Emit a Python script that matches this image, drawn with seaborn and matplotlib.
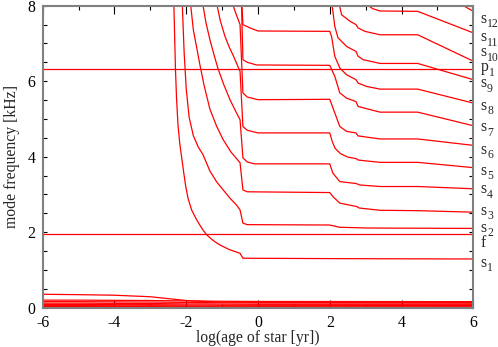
import numpy as np
import pandas as pd
import matplotlib
matplotlib.use("Agg")
import matplotlib.pyplot as plt
from matplotlib.ticker import MultipleLocator
import seaborn as sns

sns.set_style("ticks")
plt.rcParams["font.family"] = ["Liberation Serif", "DejaVu Serif"]
plt.rcParams["axes.unicode_minus"] = False

# ---------------- data (log age [yr], frequency [kHz]) ----------------
s1_x = [-2.345, -2.30, -2.27, -2.23, -2.18, -2.13, -2.08, -2.02, -1.95, -1.85, -1.71, -1.55, -1.43, -1.25, -1.06, -0.80, -0.50, -0.42, 2.0, 6.0]
s1_y = [8.05, 6.33, 5.55, 4.85, 4.35, 4.00, 3.65, 3.25, 2.90, 2.59, 2.33, 2.08, 1.93, 1.78, 1.66, 1.54, 1.44, 1.31, 1.30, 1.29]

s2_x = [-2.11, -2.06, -2.00, -1.92, -1.80, -1.66, -1.53, -1.34, -1.15, -0.97, -0.78, -0.60, -0.50, -0.42, -0.30, 2.0, 2.28, 3.1, 6.0]
s2_y = [8.05, 6.80, 5.80, 5.05, 4.55, 4.25, 4.05, 3.62, 3.33, 3.12, 2.90, 2.72, 2.59, 2.24, 2.20, 2.19, 2.13, 2.11, 2.10]

s3_x = [-1.88, -1.80, -1.71, -1.62, -1.50, -1.34, -1.15, -0.97, -0.75, -0.50, -0.42, -0.30, 2.0, 2.09, 2.28, 2.75, 2.82, 3.4, 4.45, 6.0]
s3_y = [8.05, 7.35, 6.90, 6.44, 5.88, 5.26, 4.80, 4.45, 4.12, 3.84, 3.12, 3.07, 3.05, 2.94, 2.77, 2.68, 2.64, 2.58, 2.57, 2.53]

s4_x = [-1.54, -1.45, -1.34, -1.22, -1.11, -0.95, -0.78, -0.62, -0.50, -0.42, -0.30, -0.10, 2.0, 2.09, 2.28, 2.73, 2.84, 3.4, 4.45, 6.0]
s4_y = [8.05, 7.55, 7.10, 6.68, 6.32, 5.90, 5.51, 5.20, 4.98, 3.97, 3.86, 3.81, 3.81, 3.56, 3.34, 3.29, 3.25, 3.21, 3.21, 3.15]

s5_x = [-1.15, -1.05, -0.92, -0.80, -0.70, -0.60, -0.50, -0.42, -0.30, 0.0, 2.0, 2.07, 2.15, 2.30, 2.50, 2.73, 2.80, 3.4, 4.45, 6.0]
s5_y = [8.05, 7.60, 7.19, 6.90, 6.70, 6.48, 6.26, 4.80, 4.70, 4.63, 4.63, 4.40, 4.22, 4.08, 3.99, 3.95, 3.91, 3.85, 3.85, 3.71]

s6_x = [-0.71, -0.62, -0.55, -0.50, -0.42, -0.30, 0.0, 2.0, 2.14, 2.28, 2.47, 2.73, 2.79, 3.4, 4.45, 6.0]
s6_y = [8.05, 7.80, 7.63, 7.50, 5.69, 5.58, 5.51, 5.52, 5.16, 4.80, 4.67, 4.63, 4.55, 4.47, 4.47, 4.30]

s7_x = [-0.46, -0.42, -0.30, -0.04, 2.0, 2.14, 2.28, 2.47, 2.73, 2.79, 3.4, 4.45, 6.0]
s7_y = [8.05, 6.57, 6.50, 6.43, 6.42, 6.13, 5.69, 5.55, 5.46, 5.33, 5.18, 5.18, 4.82]

s8_x = [-0.45, -0.42, -0.22, 0.0, 2.0, 2.05, 2.14, 2.28, 2.47, 2.73, 2.79, 3.03, 3.4, 4.45, 6.0]
s8_y = [8.05, 7.50, 7.41, 7.33, 7.32, 7.19, 6.66, 6.35, 6.17, 6.04, 5.95, 5.86, 5.79, 5.79, 5.42]

s9_x = [2.06, 2.14, 2.23, 2.47, 2.73, 2.79, 2.93, 3.4, 4.45, 6.0]
s9_y = [8.05, 7.45, 7.15, 6.92, 6.79, 6.66, 6.57, 6.47, 6.47, 6.04]

s10_x = [2.26, 2.33, 2.56, 2.73, 2.79, 2.98, 3.4, 4.45, 6.0]
s10_y = [8.05, 7.76, 7.59, 7.50, 7.41, 7.32, 7.23, 7.23, 6.53]

s11_x = [3.03, 3.20, 3.40, 4.45, 6.0]
s11_y = [8.03, 7.92, 7.86, 7.85, 7.28]

s12_x = [4.45, 6.0]
s12_y = [8.70, 7.85]

p1_x = [-6.0, 6.0]
p1_y = [6.31, 6.31]

f_x = [-6.0, 6.0]
f_y = [1.94, 1.94]

g_x = [-6.0, -5.0, -4.0, -3.0, -2.5, -2.0, -1.5, -1.0, 0.0, 6.0]
g1_y = [0.355, 0.345, 0.33, 0.29, 0.24, 0.19, 0.165, 0.15, 0.14, 0.14]
g2_y = [0.20, 0.20, 0.195, 0.19, 0.185, 0.18, 0.175, 0.17, 0.165, 0.16]
g3_y = [0.16, 0.16, 0.155, 0.15, 0.145, 0.14, 0.135, 0.13, 0.125, 0.12]
g4_y = [0.12, 0.12, 0.115, 0.11, 0.105, 0.10, 0.10, 0.095, 0.09, 0.09]
g5_y = [0.085, 0.085, 0.08, 0.08, 0.075, 0.07, 0.07, 0.065, 0.065, 0.06]
g6_y = [0.055, 0.055, 0.05, 0.05, 0.05, 0.045, 0.045, 0.04, 0.04, 0.04]
g7_y = [0.03, 0.03, 0.03, 0.03, 0.025, 0.025, 0.025, 0.02, 0.02, 0.02]

label_base = ["s", "s", "s", "p", "s", "s", "s", "s", "s", "s", "s", "s", "f", "s"]
label_sub = ["12", "11", "10", "1", "9", "8", "7", "6", "5", "4", "3", "2", "", "1"]
label_y = [7.54, 7.06, 6.66, 6.26, 5.84, 5.24, 4.67, 4.08, 3.52, 3.03, 2.46, 2.01, 1.62, 1.09]

# ---------------- long-form table ----------------
series = {
    "s1": (s1_x, s1_y), "s2": (s2_x, s2_y), "s3": (s3_x, s3_y), "s4": (s4_x, s4_y),
    "s5": (s5_x, s5_y), "s6": (s6_x, s6_y), "s7": (s7_x, s7_y), "s8": (s8_x, s8_y),
    "s9": (s9_x, s9_y), "s10": (s10_x, s10_y), "s11": (s11_x, s11_y), "s12": (s12_x, s12_y),
    "p1": (p1_x, p1_y), "f": (f_x, f_y),
    "g1": (g_x, g1_y), "g2": (g_x, g2_y), "g3": (g_x, g3_y), "g4": (g_x, g4_y),
    "g5": (g_x, g5_y), "g6": (g_x, g6_y), "g7": (g_x, g7_y),
}
rows = []
for name, (xs, ys) in series.items():
    for xv, yv in zip(xs, ys):
        rows.append((xv, yv, name))
df = pd.DataFrame(rows, columns=["log_age", "freq", "mode"])

# ---------------- figure ----------------
fig = plt.figure(figsize=(4.98, 3.47), dpi=100)
ax = fig.add_axes([0.0857, 0.1133, 0.8647, 0.8703])

sns.lineplot(data=df, x="log_age", y="freq", units="mode", estimator=None,
             sort=False, color="#ff0000", lw=0.9, ax=ax, legend=False)

ax.set_xlim(-6, 6)
ax.set_ylim(0, 8)
ax.xaxis.set_major_locator(MultipleLocator(2))
ax.xaxis.set_minor_locator(MultipleLocator(1))
ax.yaxis.set_major_locator(MultipleLocator(2))
ax.yaxis.set_minor_locator(MultipleLocator(0.5))
ax.tick_params(which="both", direction="in", top=True, right=True,
               colors="black", width=0.8, labelsize=11.3)
ax.tick_params(axis="x", which="major", length=6, pad=5)
ax.tick_params(axis="x", which="minor", length=3)
ax.tick_params(axis="y", which="both", length=3, pad=5)
for sp in ax.spines.values():
    sp.set_color("#808080")
    sp.set_linewidth(1.5)

ax.set_xlabel("log(age of star [yr])", fontsize=11.3)
ax.set_ylabel("mode frequency [kHz]", fontsize=11.3)
ax.xaxis.set_label_coords(0.5, -0.075)
ax.yaxis.set_label_coords(-0.052, 0.5)

for base, sub, yv in zip(label_base, label_sub, label_y):
    ax.text(6.21, yv, base, fontsize=11.3, ha="left", va="baseline", clip_on=False)
    if sub:
        ax.annotate(sub, xy=(6.21, yv), xycoords="data",
                    xytext=(4.5 if base == "s" else 5.7, -3.2), textcoords="offset points",
                    fontsize=8.4, ha="left", va="baseline", annotation_clip=False)

fig.savefig("out.png", dpi=100)
